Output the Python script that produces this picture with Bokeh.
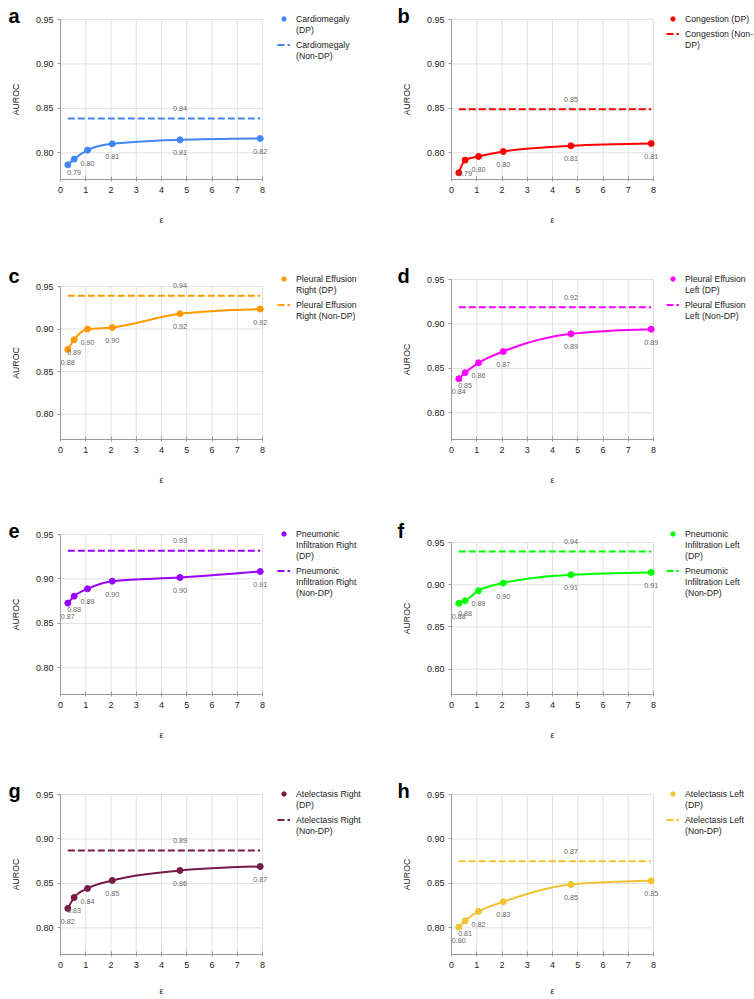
import math
from bokeh.plotting import figure
from bokeh.layouts import column, row
from bokeh.models import (Range1d, Label, LabelSet, Legend, LegendItem,
                          ColumnDataSource, NumeralTickFormatter, FixedTicker)
from bokeh.core.properties import value
from bokeh.embed import file_html
from bokeh.resources import INLINE

# ---------------- data ----------------
EPSILON = [0.29, 0.54, 1.07, 2.05, 4.73, 7.91]
X_TICKS = [0, 1, 2, 3, 4, 5, 6, 7, 8]
Y_TICKS = [0.80, 0.85, 0.90, 0.95]
X_MIN, X_MAX = 0, 8
Y_MIN, Y_MAX = 0.77, 0.95

CARDIOMEGALY_DP = [0.7865, 0.7929, 0.8030, 0.8101, 0.8146, 0.8161]
CARDIOMEGALY_NON_DP = 0.8386
CONGESTION_DP = [0.7775, 0.7918, 0.7959, 0.8015, 0.8079, 0.8105]
CONGESTION_NON_DP = 0.8491
PLEURAL_EFFUSION_RIGHT_DP = [0.8760, 0.8873, 0.8999, 0.9018, 0.9179, 0.9234]
PLEURAL_EFFUSION_RIGHT_NON_DP = 0.9390
PLEURAL_EFFUSION_LEFT_DP = [0.8383, 0.8452, 0.8563, 0.8690, 0.8889, 0.8941]
PLEURAL_EFFUSION_LEFT_NON_DP = 0.9189
PNEUMONIC_INFILTRATION_RIGHT_DP = [0.8728, 0.8806, 0.8889, 0.8975, 0.9016, 0.9084]
PNEUMONIC_INFILTRATION_RIGHT_NON_DP = 0.9316
PNEUMONIC_INFILTRATION_LEFT_DP = [0.8780, 0.8811, 0.8929, 0.9020, 0.9118, 0.9146]
PNEUMONIC_INFILTRATION_LEFT_NON_DP = 0.9394
ATELECTASIS_RIGHT_DP = [0.8218, 0.8341, 0.8443, 0.8533, 0.8645, 0.8690]
ATELECTASIS_RIGHT_NON_DP = 0.8870
ATELECTASIS_LEFT_DP = [0.8008, 0.8079, 0.8184, 0.8293, 0.8488, 0.8529]
ATELECTASIS_LEFT_NON_DP = 0.8748

PANEL_LETTERS = ["a", "b", "c", "d", "e", "f", "g", "h"]
LEGEND_DP = ["Cardiomegaly\n(DP)", "Congestion (DP)",
             "Pleural Effusion\nRight (DP)", "Pleural Effusion\nLeft (DP)",
             "Pneumonic\nInfiltration Right\n(DP)", "Pneumonic\nInfiltration Left\n(DP)",
             "Atelectasis Right\n(DP)", "Atelectasis Left\n(DP)"]
LEGEND_NON_DP = ["Cardiomegaly\n(Non-DP)", "Congestion (Non-\nDP)",
                 "Pleural Effusion\nRight (Non-DP)", "Pleural Effusion\nLeft (Non-DP)",
                 "Pneumonic\nInfiltration Right\n(Non-DP)", "Pneumonic\nInfiltration Left\n(Non-DP)",
                 "Atelectasis Right\n(Non-DP)", "Atelectasis Left\n(Non-DP)"]
DP_SERIES = [CARDIOMEGALY_DP, CONGESTION_DP, PLEURAL_EFFUSION_RIGHT_DP, PLEURAL_EFFUSION_LEFT_DP,
             PNEUMONIC_INFILTRATION_RIGHT_DP, PNEUMONIC_INFILTRATION_LEFT_DP,
             ATELECTASIS_RIGHT_DP, ATELECTASIS_LEFT_DP]
NON_DP_VALUES = [CARDIOMEGALY_NON_DP, CONGESTION_NON_DP, PLEURAL_EFFUSION_RIGHT_NON_DP,
                 PLEURAL_EFFUSION_LEFT_NON_DP, PNEUMONIC_INFILTRATION_RIGHT_NON_DP,
                 PNEUMONIC_INFILTRATION_LEFT_NON_DP, ATELECTASIS_RIGHT_NON_DP,
                 ATELECTASIS_LEFT_NON_DP]
COLORS = ["#4285F4", "#FF0000", "#FF9900", "#FF00FF", "#9900FF", "#00FF00", "#741B47", "#F1C232"]

# ---------------- layout / style ----------------
FONT = "Liberation Sans"
ROW_HEIGHTS = [260, 255, 260, 222]
COL_WIDTHS = [390, 364]
PLOT_LEFT = [60, 61]          # pixel position of x = 0 inside each figure
FRAME_W = 202                 # pixels from x = 0 to x = 8
FRAME_H = [160, 160, 153, 160, 160, 152, 160, 160]
BORDER_TOP = [19, 19, 26, 19, 19, 27, 19, 19]
LEGEND_LEFT = [277, 276]
LEG_FS = "8.7px"
LEG_LINE_H = 11
LEG_GAP = 4
LEG_TOP = 13
LETTER_X = [8, 7]
LETTER_BASELINE = 15.5
GRID_COLOR = "#e0e0e0"
AXIS_COLOR = "#9a9a9a"


def tangents(xs, ys):
    n = len(xs)
    h = [xs[i + 1] - xs[i] for i in range(n - 1)]
    s = [(ys[i + 1] - ys[i]) / h[i] for i in range(n - 1)]
    m = [0.0] * n
    for i in range(1, n - 1):
        s0, s1 = s[i - 1], s[i]
        p = (s0 * h[i] + s1 * h[i - 1]) / (h[i - 1] + h[i])
        sg = (math.copysign(1, s0) if s0 else 0) + (math.copysign(1, s1) if s1 else 0)
        m[i] = sg * min(abs(s0), abs(s1), 0.5 * abs(p))
    m[0] = (3 * s[0] - m[1]) / 2
    m[-1] = (3 * s[-1] - m[-2]) / 2
    return m


def add_legend_entry(p, text, renderer, blank, left, top_px, H):
    lines = text.split("\n")
    items = [LegendItem(label=lines[0], renderers=[renderer])]
    items += [LegendItem(label=ln, renderers=[blank]) for ln in lines[1:]]
    vy = H - top_px - len(lines) * LEG_LINE_H
    legend = Legend(items=items, location=(left, vy), orientation="vertical",
                    glyph_width=13, glyph_height=LEG_LINE_H, label_height=LEG_LINE_H,
                    label_width=10, label_standoff=6, spacing=0, padding=0, margin=0,
                    border_line_color=None, background_fill_alpha=0,
                    label_text_font=FONT, label_text_font_size=LEG_FS,
                    label_text_color="#222222")
    p.add_layout(legend, "center")
    return len(lines)


def make_panel(i):
    col = i % 2
    r = i // 2
    H = ROW_HEIGHTS[r]
    W = COL_WIDTHS[col]
    fh = FRAME_H[i]
    top = BORDER_TOP[i]
    color = COLORS[i]
    dp = DP_SERIES[i]
    ndp = NON_DP_VALUES[i]

    sx = FRAME_W / (X_MAX - X_MIN)
    sy = fh / (Y_MAX - Y_MIN)
    x_start = X_MIN - PLOT_LEFT[col] / sx
    x_end = X_MIN + (W - PLOT_LEFT[col]) / sx
    y_end = Y_MAX + top / sy
    y_start = Y_MIN - (H - top - fh) / sy

    p = figure(width=W, height=H, x_range=Range1d(x_start, x_end),
               y_range=Range1d(y_start, y_end), output_backend="svg",
               toolbar_location=None, min_border=0, min_border_left=0,
               min_border_right=0, min_border_top=0, min_border_bottom=0)
    p.outline_line_color = None
    p.background_fill_color = "white"
    p.border_fill_color = "white"
    p.grid.visible = False

    # grid lines, limited to the plotting area
    p.segment(x0=X_TICKS, y0=[Y_MIN] * len(X_TICKS), x1=X_TICKS, y1=[Y_MAX] * len(X_TICKS),
              line_color=GRID_COLOR, line_width=1, level="underlay")
    p.segment(x0=[X_MIN] * len(Y_TICKS), y0=Y_TICKS, x1=[X_MAX] * len(Y_TICKS), y1=Y_TICKS,
              line_color=GRID_COLOR, line_width=1, level="underlay")

    # axes fixed at the data origin
    p.xaxis.fixed_location = Y_MIN
    p.yaxis.fixed_location = X_MIN
    p.xaxis.bounds = (X_MIN, X_MAX)
    p.yaxis.bounds = (Y_MIN, Y_MAX)
    p.xaxis.ticker = FixedTicker(ticks=X_TICKS)
    p.yaxis.ticker = FixedTicker(ticks=Y_TICKS)
    p.yaxis.formatter = NumeralTickFormatter(format="0.00")
    p.xaxis.axis_label = "ε"
    p.yaxis.axis_label = "AUROC"
    for ax in (p.xaxis[0], p.yaxis[0]):
        ax.axis_line_color = AXIS_COLOR
        ax.major_tick_line_color = AXIS_COLOR
        ax.minor_tick_line_color = None
        ax.major_label_text_font = FONT
        ax.major_label_text_font_size = "9px"
        ax.major_label_text_color = "#222222"
        ax.axis_label_text_font = FONT
        ax.axis_label_text_font_size = "8.7px"
        ax.axis_label_text_font_style = "normal"
        ax.axis_label_text_color = "#222222"
    p.xaxis.major_tick_in = 3
    p.xaxis.major_tick_out = 2
    p.xaxis.major_label_standoff = 5
    p.xaxis.axis_label_standoff = 19 if r < 3 else 15
    p.yaxis.major_tick_in = 0
    p.yaxis.major_tick_out = 3
    p.yaxis.major_label_standoff = 4
    p.yaxis.axis_label_standoff = 12

    # smooth DP curve
    m = tangents(EPSILON, dp)
    bz = dict(x0=[], y0=[], x1=[], y1=[], cx0=[], cy0=[], cx1=[], cy1=[])
    for k in range(len(EPSILON) - 1):
        hk = EPSILON[k + 1] - EPSILON[k]
        bz["x0"].append(EPSILON[k]); bz["y0"].append(dp[k])
        bz["x1"].append(EPSILON[k + 1]); bz["y1"].append(dp[k + 1])
        bz["cx0"].append(EPSILON[k] + hk / 3); bz["cy0"].append(dp[k] + m[k] * hk / 3)
        bz["cx1"].append(EPSILON[k + 1] - hk / 3); bz["cy1"].append(dp[k + 1] - m[k + 1] * hk / 3)
    p.bezier(x0="x0", y0="y0", x1="x1", y1="y1", cx0="cx0", cy0="cy0", cx1="cx1",
             cy1="cy1", source=ColumnDataSource(bz), line_color=color, line_width=2)
    r_dp = p.scatter(EPSILON, dp, size=6, marker="circle", fill_color=color, line_color=color)

    # non-DP dashed line
    r_ndp = p.segment(x0=[EPSILON[0]], y0=[ndp], x1=[EPSILON[-1]], y1=[ndp],
                      line_color=color, line_width=2, line_dash="7 3")

    # invisible renderer used for continuation lines of the legend labels
    blank = p.scatter(x=[], y=[], fill_alpha=0, line_alpha=0)

    # value labels (hidden when they would fall below the plotting area)
    lx, ly, lt = [], [], []
    for x, v in zip(EPSILON, dp):
        if (v - Y_MIN) * sy >= 17:
            lx.append(x); ly.append(v); lt.append(f"{v:.2f}")
    p.add_layout(LabelSet(x="x", y="y", text="t", source=ColumnDataSource(dict(x=lx, y=ly, t=lt)),
                          y_offset=-13, text_align="center", text_baseline="middle",
                          text_font=value(FONT), text_font_size=value("7.2px"),
                          text_color="#666666"))
    p.add_layout(LabelSet(x="x", y="y", text="t",
                          source=ColumnDataSource(dict(x=[EPSILON[4]], y=[ndp], t=[f"{ndp:.2f}"])),
                          y_offset=10, text_align="center", text_baseline="middle",
                          text_font=value(FONT), text_font_size=value("7.2px"),
                          text_color="#666666"))

    # legend
    n1 = add_legend_entry(p, LEGEND_DP[i], r_dp, blank, LEGEND_LEFT[col], LEG_TOP, H)
    add_legend_entry(p, LEGEND_NON_DP[i], r_ndp, blank, LEGEND_LEFT[col],
                     LEG_TOP + n1 * LEG_LINE_H + LEG_GAP, H)

    # panel letter
    p.add_layout(Label(x=LETTER_X[col], y=H - LETTER_BASELINE, x_units="screen",
                       y_units="screen", text=PANEL_LETTERS[i], text_font=FONT,
                       text_font_size="20px", text_font_style="bold", text_color="#000000",
                       text_baseline="alphabetic", text_align="left"))
    return p


panels = [make_panel(i) for i in range(8)]
layout = column(row(panels[0], panels[1]), row(panels[2], panels[3]),
                row(panels[4], panels[5]), row(panels[6], panels[7]))

with open("out.html", "w") as f:
    f.write(file_html(layout, INLINE))
